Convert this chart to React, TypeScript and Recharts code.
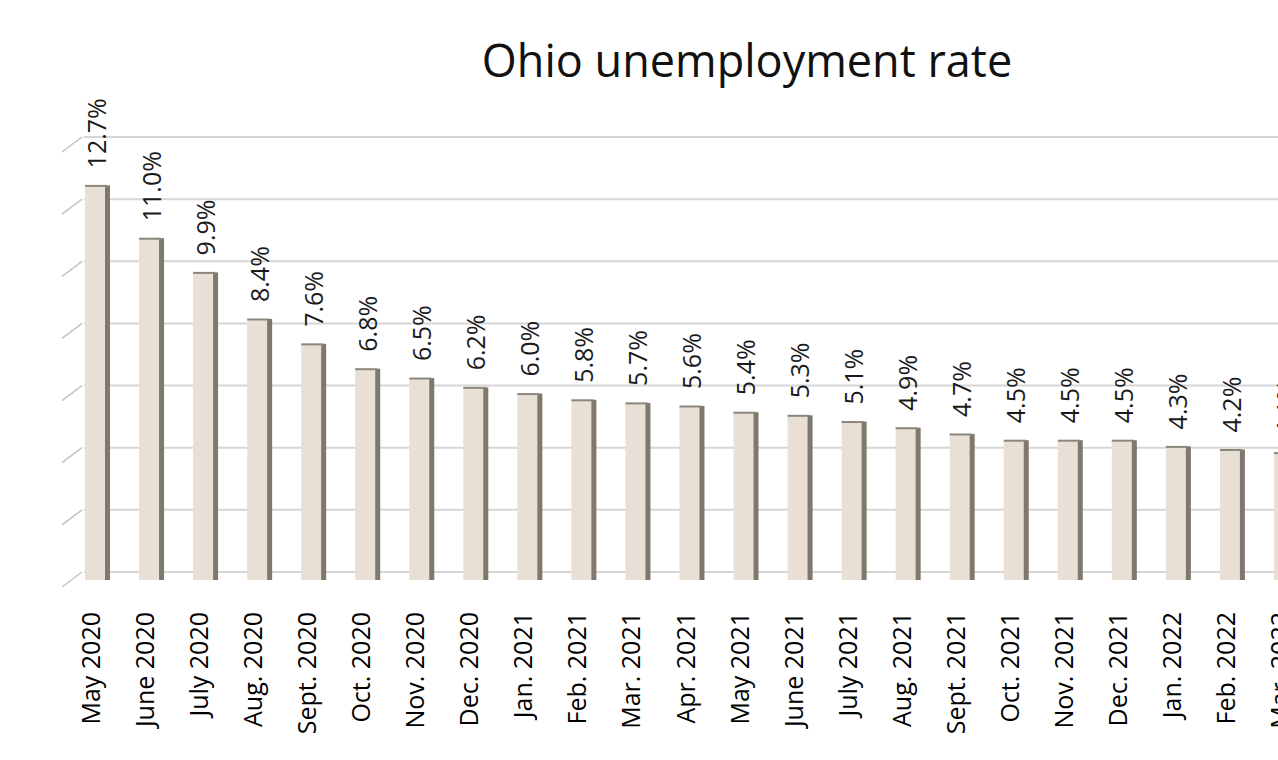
import { BarChart, Bar, XAxis, YAxis, CartesianGrid, LabelList } from "recharts"

const months = [
    "May 2020", "June 2020", "July 2020", "Aug. 2020", "Sept. 2020", "Oct. 2020",
    "Nov. 2020", "Dec. 2020", "Jan. 2021", "Feb. 2021", "Mar. 2021", "Apr. 2021",
    "May 2021", "June 2021", "July 2021", "Aug. 2021", "Sept. 2021", "Oct. 2021",
    "Nov. 2021", "Dec. 2021", "Jan. 2022", "Feb. 2022", "Mar. 2022",
]

const rates = [
    12.7, 11.0, 9.9, 8.4, 7.6, 6.8, 6.5, 6.2, 6.0, 5.8, 5.7, 5.6,
    5.4, 5.3, 5.1, 4.9, 4.7, 4.5, 4.5, 4.5, 4.3, 4.2, 4.1,
]

const yTicks = [0, 2, 4, 6, 8, 10, 12, 14]

const data = months.map((month, i) => ({ month, rate: rates[i] }))

const FONT = "'Open Sans', sans-serif"

// back wall gridline + little diagonal "depth" tick on the left
function GridLine(props: any) {
    const { x1, x2, y1, index } = props
    return (
        <g key={"grid-" + index}>
            <line x1={x1 + 14} x2={x2 + 14} y1={y1 - 8} y2={y1 - 8} stroke="#d6d6d6" strokeWidth={2} />
            <line x1={x1 - 8} y1={y1 + 7} x2={x1 + 12} y2={y1 - 8} stroke="#c4c4c4" strokeWidth={1.5} />
        </g>
    )
}

// fake 3d column: light front face, dark right side
function Column(props: any) {
    const { x, y, width, height } = props
    if (!height || height <= 0) return null
    return (
        <g>
            <rect x={x} y={y} width={width - 4} height={height} fill="#e8e0d4" />
            <rect x={x + width - 5} y={y} width={5} height={height} fill="#7f796d" />
            <line x1={x} x2={x + width - 3} y1={y + 0.5} y2={y + 0.5} stroke="#8c877c" strokeWidth={2} />
        </g>
    )
}

function ValueLabel(props: any) {
    const { x, y, width, value } = props
    const cx = x + width / 2 + 9
    const cy = y - 17
    return (
        <text x={cx} y={cy} transform={`rotate(-90, ${cx}, ${cy})`} fontSize={25} fontFamily={FONT} fill="#1a1a1a">
            {value.toFixed(1) + "%"}
        </text>
    )
}

function MonthTick(props: any) {
    const { x, y, payload } = props
    const tx = x + 3
    const ty = y + 26
    return (
        <text x={tx} y={ty} transform={`rotate(-90, ${tx}, ${ty})`} textAnchor="end" fontSize={25} fontFamily={FONT} fill="#000">
            {payload.value}
        </text>
    )
}

export default function App() {
    return (
        <div style={{ position: "absolute", left: 0, top: 0, width: 1278, height: 760, overflow: "hidden", background: "#fff" }}>
            <div
                style={{
                    position: "absolute",
                    left: 747,
                    top: 37,
                    transform: "translateX(-50%)",
                    whiteSpace: "nowrap",
                    fontFamily: FONT,
                    fontSize: 45,
                    lineHeight: "45px",
                    color: "#111",
                }}
            >
                Ohio unemployment rate
            </div>
            <BarChart
                width={1340}
                height={760}
                data={data}
                margin={{ top: 145, right: 27, left: 70, bottom: 10 }}
                barCategoryGap={0}
            >
                <CartesianGrid vertical={false} horizontal={GridLine} />
                <YAxis hide domain={[0, 14]} ticks={yTicks} />
                <XAxis
                    dataKey="month"
                    interval={0}
                    tickLine={false}
                    axisLine={false}
                    tickMargin={0}
                    height={170}
                    tick={MonthTick}
                />
                <Bar dataKey="rate" barSize={25} shape={Column} isAnimationActive={false}>
                    <LabelList dataKey="rate" content={ValueLabel} />
                </Bar>
            </BarChart>
        </div>
    )
}
